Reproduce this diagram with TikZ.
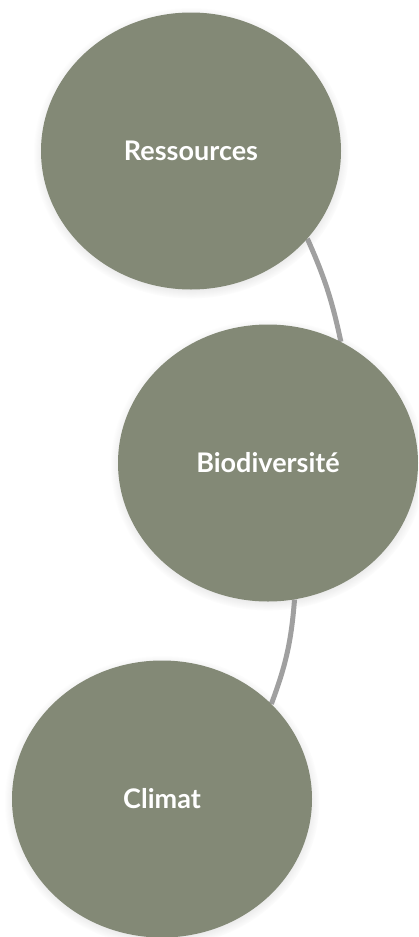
\documentclass[tikz,border=0pt]{standalone}
\usepackage{fontspec}
\setmainfont{Lato}
\usetikzlibrary{shapes.geometric,shadows,backgrounds}
\definecolor{sage}{RGB}{131,137,118}
\definecolor{linkgray}{RGB}{160,160,160}
\tikzset{
  bubble/.style={ellipse, fill=sage, minimum width=300pt, minimum height=277pt, inner sep=0pt,
    text=white, font=\fontsize{27}{32}\selectfont\bfseries,
    circular drop shadow={shadow xshift=0pt, shadow yshift=-2pt, shadow scale=1.05, opacity=0.35}},
  link/.style={draw=linkgray, line width=5pt}
}
\begin{document}
\begin{tikzpicture}[x=1pt,y=-1pt]
\clip (0,0) rectangle (418,937);
\node[bubble] (c1) at (191,151) {Ressources};
\node[bubble] (c2) at (268,463) {Biodiversité};
\node[bubble] (c3) at (162,799) {Climat};
\begin{pgfonlayer}{background}
\fill[white] (0,0) rectangle (418,937);
\draw[link] (c1.-37.5) to[bend left=6] (c2.59);
\draw[link] (c2.-79) to[bend left=8] (c3.41.6);
\end{pgfonlayer}
\end{tikzpicture}
\end{document}
